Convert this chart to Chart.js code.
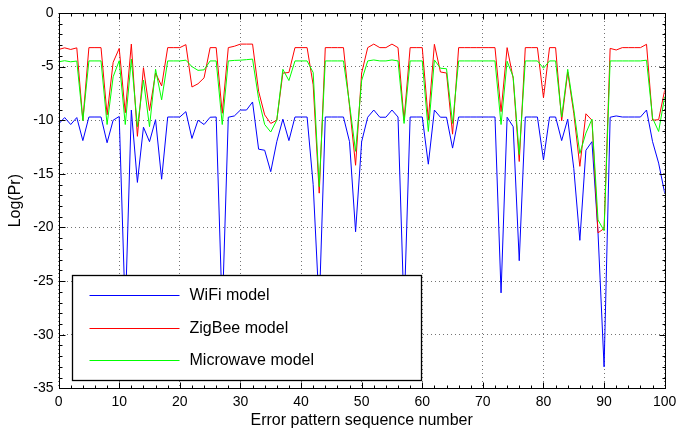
<!DOCTYPE html>
<html><head><meta charset="utf-8">
<script src="https://cdn.jsdelivr.net/npm/chart.js@4.4.0/dist/chart.umd.min.js"></script>
<style>html,body{margin:0;padding:0;background:#fff;}canvas{display:block;}</style>
</head><body>
<canvas id="c" width="676" height="430"></canvas>
<script>
const seqNumbers = [0,1,2,3,4,5,6,7,8,9,10,11,12,13,14,15,16,17,18,19,20,21,22,23,24,25,26,27,28,29,30,31,32,33,34,35,36,37,38,39,40,41,42,43,44,45,46,47,48,49,50,51,52,53,54,55,56,57,58,59,60,61,62,63,64,65,66,67,68,69,70,71,72,73,74,75,76,77,78,79,80,81,82,83,84,85,86,87,88,89,90,91,92,93,94,95,96,97,98,99,100];

const wifiModel = [-10.35,-9.75,-10.4,-9.75,-11.9,-9.7,-9.7,-9.7,-12.1,-10.0,
 -9.65,-28,-9.05,-15.8,-10.65,-12.0,-9.95,-15.5,-9.7,-9.7,
 -9.7,-9.2,-11.7,-10.0,-10.4,-9.72,-9.7,-28,-9.72,-9.6,
 -9.05,-9.05,-8.3,-12.7,-12.8,-14.8,-12.0,-9.9,-11.9,-9.7,
 -9.7,-9.7,-16,-27.5,-9.7,-9.7,-9.7,-9.7,-12.0,-20.4,
 -12.0,-9.72,-9.05,-9.72,-9.72,-9.05,-9.7,-28,-9.7,-9.7,
 -9.7,-14.1,-9.05,-9.72,-9.72,-12.6,-9.7,-9.7,-9.7,-9.7,
 -9.7,-9.7,-9.7,-26.1,-9.72,-10.6,-23.1,-9.7,-9.7,-9.7,
 -13.7,-9.7,-9.7,-11.9,-9.9,-14.5,-21.2,-12.8,-12.0,-20.5,
 -33.0,-9.72,-9.6,-9.7,-9.7,-9.7,-9.7,-9.05,-12.0,-14.0,
 -16.8];

const zigbeeModel = [-3.4,-3.25,-3.4,-3.25,-10.0,-3.23,-3.23,-3.23,-9.5,-4.6,
 -3.3,-9.3,-2.9,-11.5,-5.1,-9.1,-5.6,-6.8,-3.23,-3.23,
 -3.23,-2.95,-6.9,-6.6,-6.05,-3.23,-3.23,-9.35,-3.23,-3.1,
 -2.9,-2.9,-2.9,-7.3,-9.5,-10.3,-10.0,-5.6,-5.55,-3.23,
 -3.23,-3.23,-6.7,-16.8,-3.23,-3.23,-3.23,-3.23,-8.7,-14.2,
 -5.6,-3.23,-2.9,-3.23,-3.23,-2.9,-3.23,-10.0,-3.23,-3.23,
 -3.23,-10.0,-2.92,-5.5,-5.6,-11.3,-3.23,-3.23,-3.23,-3.23,
 -3.23,-3.23,-3.23,-9.2,-3.23,-6.1,-13.85,-3.23,-3.23,-3.23,
 -7.9,-3.23,-3.23,-10.05,-5.5,-9.35,-14.3,-9.4,-10.0,-20.5,
 -20.1,-3.3,-3.45,-3.23,-3.23,-3.23,-3.23,-2.92,-10.0,-9.95,
 -7.2];

const microwaveModel = [-4.55,-4.45,-4.55,-4.48,-10.05,-4.47,-4.47,-4.47,-10.4,-5.95,
 -4.45,-10.4,-4.3,-10.6,-6.25,-10.6,-5.25,-8.1,-4.47,-4.47,
 -4.47,-4.4,-5.0,-5.35,-5.3,-4.47,-4.47,-10.4,-4.47,-4.42,
 -4.4,-4.35,-4.3,-8.0,-10.4,-11.1,-10.0,-5.25,-6.3,-4.47,
 -4.47,-4.47,-5.55,-16.2,-4.47,-4.47,-4.47,-4.47,-8.5,-12.9,
 -6.3,-4.47,-4.38,-4.47,-4.47,-4.38,-4.47,-10.3,-4.47,-4.47,
 -4.47,-11.05,-4.38,-5.15,-5.2,-10.3,-4.47,-4.47,-4.47,-4.47,
 -4.47,-4.47,-4.47,-10.4,-4.5,-5.95,-13.2,-4.47,-4.47,-4.47,
 -5.15,-4.47,-4.47,-9.7,-5.25,-9.0,-13.1,-11.2,-9.9,-19.3,
 -20.3,-4.47,-4.47,-4.47,-4.47,-4.47,-4.47,-4.4,-9.8,-11.05,
 -7.8];

const seriesNames = ['WiFi model', 'ZigBee model', 'Microwave model'];
const xTickValues = [0,10,20,30,40,50,60,70,80,90,100];
const yTickValues = [-35,-30,-25,-20,-15,-10,-5,0];
const xAxisTitle = 'Error pattern sequence number';
const yAxisTitle = 'Log(Pr)';

const FONT = '"Liberation Sans", Arial, Helvetica, sans-serif';

const toPoints = arr => seqNumbers.map((x, i) => ({x: x, y: arr[i]}));

const framePlugin = {
  id: 'matlabFrame',
  afterDatasetsDraw(chart) {
    const {ctx, chartArea: a, scales: {x, y}} = chart;
    ctx.save();
    ctx.strokeStyle = '#000';
    ctx.lineWidth = 1;
    ctx.beginPath();
    const L = Math.round(a.left) + 0.5, R = Math.round(a.right) + 0.5;
    const T = Math.round(a.top) + 0.5, B = Math.round(a.bottom) + 0.5;
    // minor ticks
    for (let v = x.min; v <= x.max; v += 2) {
      const px = Math.round(x.getPixelForValue(v)) + 0.5;
      ctx.moveTo(px, B); ctx.lineTo(px, B - 3);
      ctx.moveTo(px, T); ctx.lineTo(px, T + 3);
    }
    for (let v = y.min; v <= y.max; v += 1) {
      const py = Math.round(y.getPixelForValue(v)) + 0.5;
      ctx.moveTo(L, py); ctx.lineTo(L + 3, py);
      ctx.moveTo(R, py); ctx.lineTo(R - 3, py);
    }
    // major ticks
    x.ticks.forEach(t => {
      const px = Math.round(x.getPixelForValue(t.value)) + 0.5;
      ctx.moveTo(px, B); ctx.lineTo(px, B - 6);
      ctx.moveTo(px, T); ctx.lineTo(px, T + 6);
    });
    y.ticks.forEach(t => {
      const py = Math.round(y.getPixelForValue(t.value)) + 0.5;
      ctx.moveTo(L, py); ctx.lineTo(L + 6, py);
      ctx.moveTo(R, py); ctx.lineTo(R - 6, py);
    });
    ctx.stroke();
    ctx.strokeRect(L, T, R - L, B - T);

    // legend
    const bx = Math.round(a.left + 13) + 0.5, by = 275.5, bw = 349, bh = 105;
    ctx.fillStyle = '#fff';
    ctx.fillRect(bx, by, bw, bh);
    ctx.lineWidth = 1.3;
    ctx.strokeRect(bx, by, bw, bh);
    const rows = [295, 328, 360];
    ctx.font = '16px ' + FONT;
    ctx.textBaseline = 'middle';
    ctx.textAlign = 'left';
    chart.data.datasets.forEach((ds, i) => {
      const yy = rows[i] + 0.5;
      ctx.strokeStyle = ds.borderColor;
      ctx.lineWidth = 1;
      ctx.beginPath();
      ctx.moveTo(bx + 17, yy); ctx.lineTo(bx + 107, yy);
      ctx.stroke();
      ctx.fillStyle = '#000';
      ctx.fillText(ds.label, bx + 117, yy);
    });
    ctx.restore();
  }
};

new Chart(document.getElementById('c'), {
  type: 'line',
  data: {
    datasets: [
      {label: seriesNames[0], data: toPoints(wifiModel), borderColor: '#0000ff', order: 3},
      {label: seriesNames[1], data: toPoints(zigbeeModel), borderColor: '#ff0000', order: 2},
      {label: seriesNames[2], data: toPoints(microwaveModel), borderColor: '#00ff00', order: 1}
    ]
  },
  options: {
    responsive: false,
    animation: false,
    devicePixelRatio: 1,
    layout: {padding: {left: 0, right: 11.3, top: 13, bottom: 0}, autoPadding: false},
    elements: {
      line: {borderWidth: 1, tension: 0, fill: false},
      point: {radius: 0, hoverRadius: 0}
    },
    plugins: {legend: {display: false}, tooltip: {enabled: false}},
    scales: {
      x: {
        type: 'linear', min: 0, max: 100,
        afterBuildTicks: s => { s.ticks = xTickValues.map(v => ({value: v})); },
        afterFit: s => { s.height = 41.7; s.paddingLeft = 0; s.paddingRight = 0; },
        ticks: {font: {family: FONT, size: 14}, color: '#000', padding: 5, maxRotation: 0, autoSkip: false},
        grid: {color: 'rgba(0,0,0,0.55)', lineWidth: 1, drawTicks: false},
        border: {display: false, dash: [1, 3]},
        title: {display: true, text: xAxisTitle, color: '#000', font: {family: FONT, size: 16}, padding: {top: 0, bottom: 0}}
      },
      y: {
        type: 'linear', min: -35, max: 0,
        afterBuildTicks: s => { s.ticks = yTickValues.map(v => ({value: v})); },
        afterFit: s => { s.width = 58.6; s.paddingTop = 0; s.paddingBottom = 0; },
        ticks: {font: {family: FONT, size: 14}, color: '#000', padding: 5},
        grid: {color: 'rgba(0,0,0,0.55)', lineWidth: 1, drawTicks: false},
        border: {display: false, dash: [1, 3]},
        title: {display: true, text: yAxisTitle, color: '#000', font: {family: FONT, size: 16}, padding: {top: 6.4, bottom: 0}}
      }
    }
  },
  plugins: [framePlugin]
});
</script>
</body></html>
